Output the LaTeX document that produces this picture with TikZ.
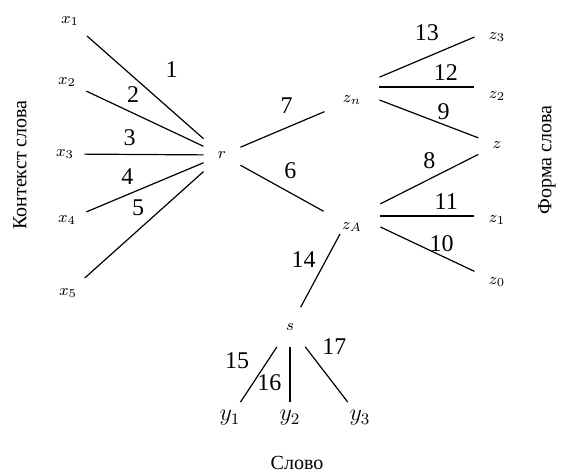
\documentclass[tikz,border=0pt]{standalone}
\usepackage{fontspec}
\setmainfont{Liberation Serif}
\usepackage{tikz}

\begin{document}
\begin{tikzpicture}[x=0.5pt, y=-0.5pt,
            leaf/.style={inner sep=5pt, font=\footnotesize},
            hub/.style={inner sep=7pt, font=\footnotesize},
            wlbl/.style={font=\large, inner sep=2pt},
            edge/.style={line width=0.6pt}]
            \useasboundingbox (0,0) rectangle (564,473);

            % context words
            \node[leaf] (x1) at (70,21) {$x_1$};
            \node[leaf] (x2) at (67,82) {$x_2$};
            \node[leaf] (x3) at (65,154) {$x_3$};
            \node[leaf] (x4) at (67,220) {$x_4$};
            \node[leaf] (x5) at (68,293) {$x_5$};
            \node[hub] (r) at (222,155) {$r$};

            % form
            \node[hub, inner sep=9pt] (zn) at (352,100) {$z_n$};
            \node[hub, inner sep=9pt] (za) at (352,227) {$z_A$};
            \node[leaf, inner sep=7pt] (z3) at (497,37) {$z_3$};
            \node[leaf, inner sep=7pt] (z2) at (497,96) {$z_2$};
            \node[leaf, inner sep=7pt] (z) at (497,145) {$z$};
            \node[leaf, inner sep=7pt] (z1) at (497,220) {$z_1$};
            \node[leaf, inner sep=7pt] (z0) at (497,282) {$z_0$};
            \coordinate (za14) at (340,234);

            % word
            \node[hub, inner sep=8pt] (s) at (290,327) {$s$};
            \node[inner sep=4pt, font=\large] (y1) at (230,418) {$y_1$};
            \node[inner sep=4pt, font=\large] (y2) at (290,418) {$y_2$};
            \node[inner sep=4pt, font=\large] (y3) at (360,418) {$y_3$};

            \node[rotate=90] (ctx) at (20,165) {Контекст слова};
            \node[rotate=90] (frm) at (547,160) {Форма слова};
            \node (wrd) at (297,463) {Слово};

            \draw[edge] (x1) -- node[wlbl, pos=0.55, above right=5pt] {1} (r);
            \draw[edge] (x2) -- node[wlbl, pos=0.4, above=3pt] {2} (r);
            \draw[edge] (x3) -- node[wlbl, pos=0.38, above=2pt] {3} (r);
            \draw[edge] (x4) -- node[wlbl, pos=0.35, above=3pt] {4} (r);
            \draw[edge] (x5) -- node[wlbl, pos=0.45, above=5pt] {5} (r);
            \draw[edge] (r) -- node[wlbl, pos=0.55, above=5pt] {7} (zn);
            \draw[edge] (r) -- node[wlbl, pos=0.6, above=5pt] {6} (za);
            \draw[edge] (zn.north east) -- node[wlbl, above=6pt] {13} (z3.west);
            \draw[edge] (zn.east |- 0,87) -- node[wlbl, pos=0.7, above=1pt] {12} (z2.west |- 0,87);
            \draw[edge] (zn.east) -- node[wlbl, pos=0.65, above=0pt] {9} (z);
            \draw[edge] (za.north east) -- node[wlbl, above=3pt] {8} (z);
            \draw[edge] (za.east |- 0,216) -- node[wlbl, pos=0.7, above=1pt] {11} (z1.west |- 0,216);
            \draw[edge] (za.east) -- node[wlbl, pos=0.65, above=0pt] {10} (z0);
            \draw[edge] (za14) -- node[wlbl, pos=0.35, left=3pt] {14} (s);
            \draw[edge] (s) -- node[wlbl, pos=0.25, left=7pt] {15} (y1);
            \draw[edge] (s) -- node[wlbl, pos=0.65, left=2pt] {16} (y2);
            \draw[edge] (s) -- node[wlbl, pos=0.25, above right=1pt] {17} (y3);
        \end{tikzpicture}
\end{document}
